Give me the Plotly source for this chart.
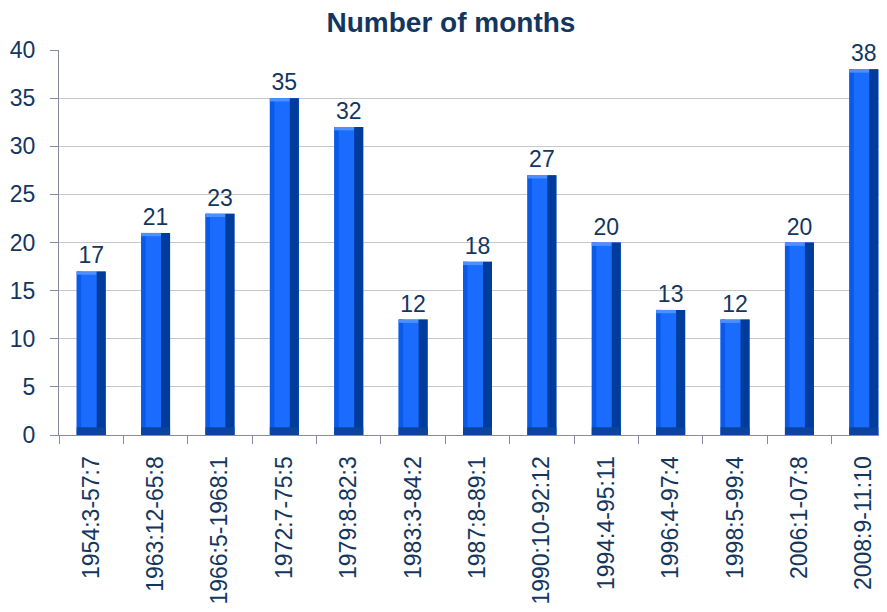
import plotly.graph_objects as go

categories = ["1954:3-57:7", "1963:12-65:8", "1966:5-1968:1", "1972:7-75:5",
              "1979:8-82:3", "1983:3-84:2", "1987:8-89:1", "1990:10-92:12",
              "1994:4-95:11", "1996:4-97:4", "1998:5-99:4", "2006:1-07:8",
              "2008:9-11:10"]
months = [17, 21, 23, 35, 32, 12, 18, 27, 20, 13, 12, 20, 38]
y_ticks = [0, 5, 10, 15, 20, 25, 30, 35, 40]

navy = "#13365f"
FONT = "Liberation Sans, Arial"
W = 0.45
R = 0.14
n = len(months)

fig = go.Figure()
# main face
fig.add_trace(go.Bar(x=categories, y=months, width=[W]*n, offset=[-W/2]*n,
                     marker=dict(color="#1a6cff", line=dict(width=0)),
                     text=[str(v) for v in months], textposition="outside",
                     textfont=dict(size=23, color=navy, family=FONT),
                     cliponaxis=False, hoverinfo="x+y"))
# left bevel
fig.add_trace(go.Bar(x=categories, y=months, width=[0.07]*n, offset=[-W/2]*n,
                     marker=dict(color="#0a5ae8", line=dict(width=0)), hoverinfo="skip"))
# top bevel
fig.add_trace(go.Bar(x=categories, y=[0.35]*n, base=[v-0.35 for v in months],
                     width=[W-R]*n, offset=[-W/2]*n,
                     marker=dict(color="#4d8fff", line=dict(width=0)), hoverinfo="skip"))
# right dark side
fig.add_trace(go.Bar(x=categories, y=months, width=[R]*n, offset=[W/2-R]*n,
                     marker=dict(color="#003c9c", line=dict(width=0)), hoverinfo="skip"))
# bottom dark bevel
fig.add_trace(go.Bar(x=categories, y=[0.8]*n, base=[0]*n,
                     width=[W]*n, offset=[-W/2]*n,
                     marker=dict(color="#0a449f", line=dict(width=0)), hoverinfo="skip"))

fig.update_layout(
    barmode="overlay",
    width=879, height=604,
    margin=dict(l=51, r=0, t=42, b=177, autoexpand=False),
    paper_bgcolor="white", plot_bgcolor="white",
    showlegend=False,
    title=dict(text="<b>Number of months</b>", x=443/879, xanchor="center",
               y=1-14/604, yanchor="middle",
               font=dict(size=28, color=navy, family=FONT)),
    font=dict(family=FONT, color=navy),
)
fig.update_yaxes(range=[0, 40], tickvals=y_ticks, showgrid=True, gridcolor="#c6c8d0",
                 gridwidth=1, showline=True, linecolor="#868c9c", linewidth=1,
                 ticks="outside", ticklen=8, tickcolor="#868c9c", automargin=False,
                 ticklabelstandoff=10,
                 tickfont=dict(size=23, color=navy), zeroline=False)
fig.update_xaxes(tickangle=-90, showline=True, linecolor="#868c9c", linewidth=1,
                 range=[-0.5, 12.36], automargin=False,
                 ticks="outside", tickson="boundaries", ticklen=8, tickcolor="#868c9c",
                 ticklabelstandoff=11,
                 tickfont=dict(size=23, color=navy), showgrid=False)

fig.write_html("out.html")
